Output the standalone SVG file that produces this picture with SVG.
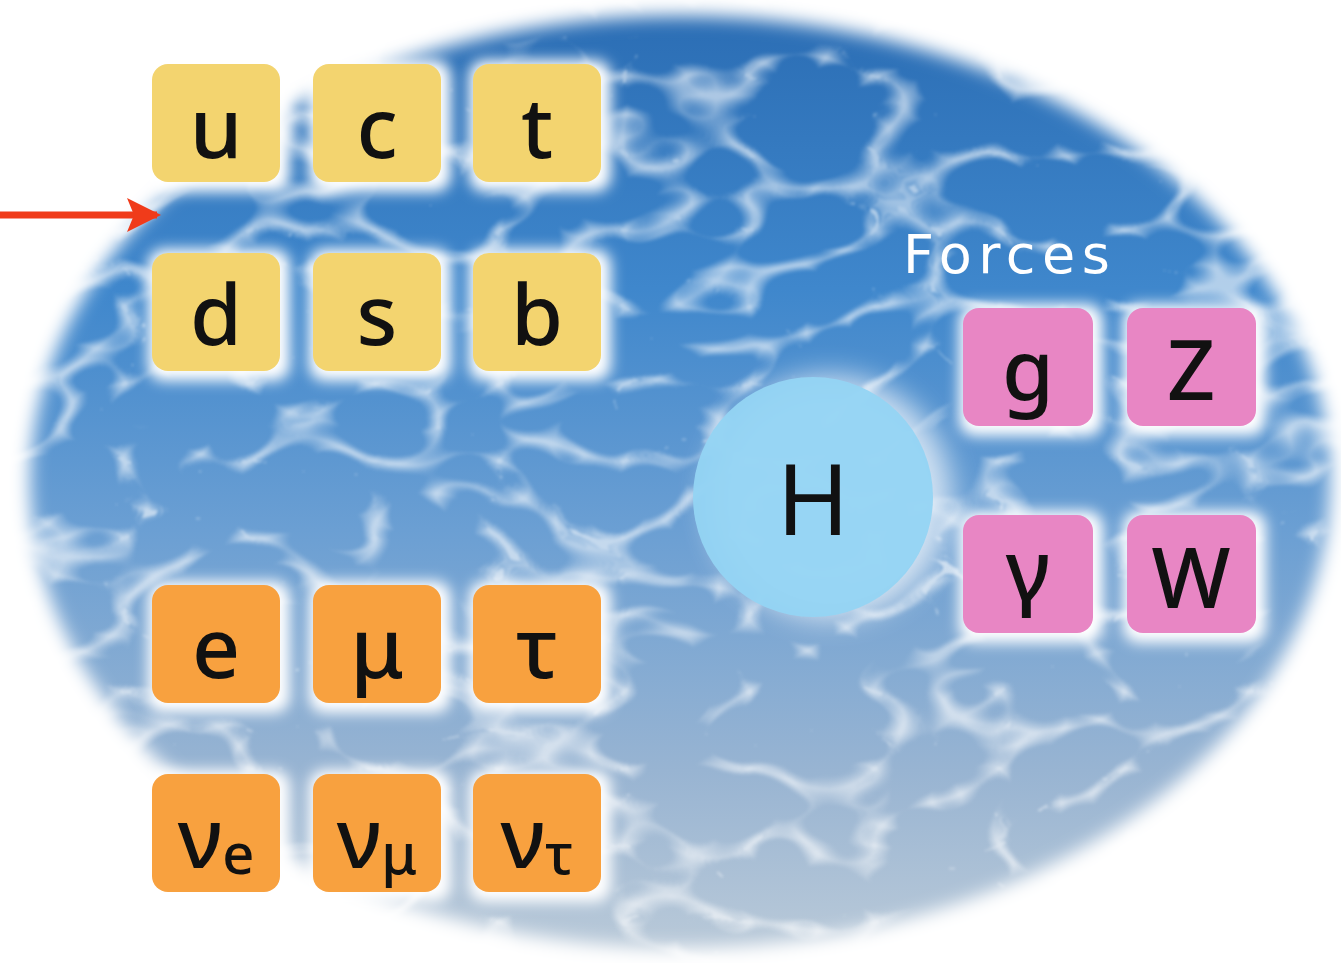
<svg xmlns="http://www.w3.org/2000/svg" width="1341" height="963" viewBox="0 0 1341 963">
<style>
.tile{stroke:none}
.q{fill:#f3d46f}
.l{fill:#f8a13f}
.f{fill:#e886c4}
.halo{fill:#ffffff;filter:url(#glow)}
.lbl{font-family:"Noto Sans","DejaVu Sans",sans-serif;font-weight:500;font-size:84px;fill:#111;text-anchor:middle}
.sub{font-size:56px}
</style>
<defs>
<linearGradient id="water" x1="0" y1="0" x2="0" y2="1">
<stop offset="0" stop-color="#2a6cb3"/>
<stop offset="0.3" stop-color="#3f87cc"/>
<stop offset="0.55" stop-color="#6b9fd3"/>
<stop offset="0.8" stop-color="#98b4d2"/>
<stop offset="1" stop-color="#bccbd9"/>
</linearGradient>
<filter id="feather" x="-10%" y="-10%" width="120%" height="120%">
<feGaussianBlur stdDeviation="9"/>
</filter>
<mask id="ellmask" maskUnits="userSpaceOnUse" x="0" y="0" width="1341" height="963">
<ellipse cx="680" cy="482" rx="650" ry="466" fill="#fff" filter="url(#feather)"/>
</mask>
<filter id="caustic" x="0" y="0" width="1" height="1">
<feTurbulence type="turbulence" baseFrequency="0.008 0.013" numOctaves="2" seed="11" result="t"/>
<feColorMatrix in="t" type="matrix" values="0 0 0 0 1  0 0 0 0 1  0 0 0 0 1  -6 0 0 0 1.1" result="lines"/>
<feGaussianBlur in="lines" stdDeviation="1.8"/>
</filter>
<filter id="glow" x="-30%" y="-30%" width="160%" height="160%">
<feGaussianBlur stdDeviation="7"/>
</filter>
<filter id="hglow" x="-40%" y="-40%" width="180%" height="180%">
<feGaussianBlur stdDeviation="14"/>
</filter>
<marker id="arrowhead" markerWidth="36" markerHeight="36" refX="30" refY="17" orient="auto" markerUnits="userSpaceOnUse">
<path d="M0,0 L34,17 L0,34 L7,17 Z" fill="#f03b1a"/>
</marker>
</defs>

<g id="background" mask="url(#ellmask)">
<rect x="0" y="0" width="1341" height="963" fill="url(#water)"/>
<rect x="0" y="0" width="1341" height="963" fill="#fff" filter="url(#caustic)" opacity="0.6"/>
</g>

<g id="connectors">
<line x1="0" y1="215" x2="157" y2="215" stroke="#f03b1a" stroke-width="7" marker-end="url(#arrowhead)"/>
</g>

<g id="node-u"><rect class="halo" x="148" y="60" width="142" height="132" rx="16"/><rect class="tile q" x="152" y="64" width="128" height="118" rx="16"/><text class="lbl" x="216" y="158">u</text></g>
<g id="node-c"><rect class="halo" x="309" y="60" width="142" height="132" rx="16"/><rect class="tile q" x="313" y="64" width="128" height="118" rx="16"/><text class="lbl" x="377" y="158">c</text></g>
<g id="node-t"><rect class="halo" x="469" y="60" width="142" height="132" rx="16"/><rect class="tile q" x="473" y="64" width="128" height="118" rx="16"/><text class="lbl" x="537" y="158">t</text></g>
<g id="node-d"><rect class="halo" x="148" y="249" width="142" height="132" rx="16"/><rect class="tile q" x="152" y="253" width="128" height="118" rx="16"/><text class="lbl" x="216" y="345">d</text></g>
<g id="node-s"><rect class="halo" x="309" y="249" width="142" height="132" rx="16"/><rect class="tile q" x="313" y="253" width="128" height="118" rx="16"/><text class="lbl" x="377" y="345">s</text></g>
<g id="node-b"><rect class="halo" x="469" y="249" width="142" height="132" rx="16"/><rect class="tile q" x="473" y="253" width="128" height="118" rx="16"/><text class="lbl" x="537" y="345">b</text></g>

<g id="node-e"><rect class="halo" x="148" y="581" width="142" height="132" rx="16"/><rect class="tile l" x="152" y="585" width="128" height="118" rx="16"/><text class="lbl" x="216" y="678">e</text></g>
<g id="node-mu"><rect class="halo" x="309" y="581" width="142" height="132" rx="16"/><rect class="tile l" x="313" y="585" width="128" height="118" rx="16"/><text class="lbl" x="377" y="678">μ</text></g>
<g id="node-tau"><rect class="halo" x="469" y="581" width="142" height="132" rx="16"/><rect class="tile l" x="473" y="585" width="128" height="118" rx="16"/><text class="lbl" x="537" y="678">τ</text></g>
<g id="node-nue"><rect class="halo" x="148" y="770" width="142" height="132" rx="16"/><rect class="tile l" x="152" y="774" width="128" height="118" rx="16"/><text class="lbl" x="216" y="868">ν<tspan class="sub" dy="6">e</tspan></text></g>
<g id="node-numu"><rect class="halo" x="309" y="770" width="142" height="132" rx="16"/><rect class="tile l" x="313" y="774" width="128" height="118" rx="16"/><text class="lbl" x="377" y="868">ν<tspan class="sub" dy="6">μ</tspan></text></g>
<g id="node-nutau"><rect class="halo" x="469" y="770" width="142" height="132" rx="16"/><rect class="tile l" x="473" y="774" width="128" height="118" rx="16"/><text class="lbl" x="537" y="868">ν<tspan class="sub" dy="6">τ</tspan></text></g>

<g id="node-H">
<circle cx="830" cy="497" r="122" fill="#fff" opacity="0.7" filter="url(#hglow)"/>
<circle cx="813" cy="497" r="120" fill="#94d4f3" opacity="0.95"/>
<text class="lbl" x="813" y="535" style="font-size:98px;font-weight:400">H</text>
</g>

<g id="label-forces"><text x="903" y="273" font-family="DejaVu Sans, Noto Sans, sans-serif" font-size="54" fill="#fff" textLength="207" lengthAdjust="spacing">Forces</text></g>

<g id="node-g"><rect class="halo" x="959" y="304" width="144" height="132" rx="16"/><rect class="tile f" x="963" y="308" width="130" height="118" rx="16"/><text class="lbl" x="1028" y="400">g</text></g>
<g id="node-Z"><rect class="halo" x="1123" y="304" width="143" height="132" rx="16"/><rect class="tile f" x="1127" y="308" width="129" height="118" rx="16"/><text class="lbl" x="1191" y="400">Z</text></g>
<g id="node-gamma"><rect class="halo" x="959" y="511" width="144" height="132" rx="16"/><rect class="tile f" x="963" y="515" width="130" height="118" rx="16"/><text class="lbl" x="1028" y="600">γ</text></g>
<g id="node-W"><rect class="halo" x="1123" y="511" width="143" height="132" rx="16"/><rect class="tile f" x="1127" y="515" width="129" height="118" rx="16"/><text class="lbl" x="1191" y="608">W</text></g>
</svg>
